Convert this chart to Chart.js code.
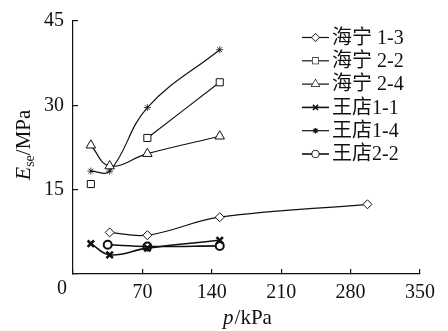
<!DOCTYPE html>
<html>
<head>
<meta charset="utf-8">
<script src="https://cdn.jsdelivr.net/npm/chart.js@4/dist/chart.umd.min.js"></script>
<style>
  body { margin: 0; background: #fff; }
  #wrap { width: 448px; height: 331px; }
</style>
</head>
<body>
<div id="wrap"><canvas id="mycan1" width="448" height="331"></canvas></div>
<script>
// values (p in kPa, Ese in MPa)
var seriesNames = ['海宁 1-3', '海宁 2-2', '海宁 2-4', '王店1-1', '王店1-4', '王店2-2'];
var pHN13 = [37, 75, 148, 297];
var eHN13 = [7.4, 6.9, 10.1, 12.4];
var pHN22 = [18, 37, 75, 148];
var eHN22 = [16.0, null, 24.2, 34.1];
var pHN24 = [18, 37, 75, 148];
var eHN24 = [22.9, 19.2, 21.4, 24.5];
var pWD11 = [18, 37, 75, 148];
var eWD11 = [5.4, 3.4, 4.6, 6.0];
var pWD14 = [18, 37, 75, 148];
var eWD14 = [18.3, 18.3, 29.6, 39.9];
var pWD22 = [35, 75, 148];
var eWD22 = [5.2, 4.9, 5.0];
var xTicks = [0, 70, 140, 210, 280, 350];
var yTicks = [0, 15, 30, 45];

var FONT = "'Liberation Serif', 'Times New Roman', 'Noto Sans CJK SC', serif";

function pts(xs, ys) {
	var out = [];
	for (var i = 0; i < xs.length; i++) {
		out.push({x: xs[i], y: ys[i]});
	}
	return out;
}

var markers = [
	{style: 'rectRot', r: 4.5, w: 1},
	{style: 'rect', r: 5, w: 1},
	{style: 'triangle', r: 5.5, w: 1},
	{style: 'crossRot', r: 4.5, w: 2.6},
	{style: 'star', r: 3.5, w: 0.8},
	{style: 'circle', r: 4, w: 2}
];
var allData = [pts(pHN13, eHN13), pts(pHN22, eHN22), pts(pHN24, eHN24),
	pts(pWD11, eWD11), pts(pWD14, eWD14), pts(pWD22, eWD22)];
var lineW = [1.2, 1.2, 1.2, 1.6, 1.2, 1.6];

var datasets = [];
for (var i = 0; i < seriesNames.length; i++) {
	datasets.push({
		label: seriesNames[i],
		data: allData[i],
		borderColor: '#111',
		backgroundColor: '#fff',
		borderWidth: lineW[i],
		pointStyle: markers[i].style,
		pointRadius: markers[i].r,
		pointBorderWidth: markers[i].w,
		pointBorderColor: '#111',
		pointBackgroundColor: '#fff',
		tension: 0.4,
		spanGaps: false
	});
}

// legend, axis titles and the shared origin "0"
var extras = {
	id: 'extras',
	afterDraw: function(chart) {
		var ctx = chart.ctx;
		ctx.save();
		ctx.fillStyle = '#111';
		ctx.strokeStyle = '#111';
		// legend
		for (var i = 0; i < datasets.length; i++) {
			var y = 37.5 + i * 23.3;
			ctx.lineWidth = lineW[i];
			ctx.beginPath();
			ctx.moveTo(302, y);
			ctx.lineTo(329, y);
			ctx.stroke();
			Chart.helpers.drawPoint(ctx, {
				pointStyle: markers[i].style,
				radius: markers[i].r * 0.8,
				borderWidth: markers[i].w,
				rotation: 0
			}, 315.5, y);
			ctx.fillStyle = '#fff';
			ctx.fill();
			ctx.fillStyle = '#111';
			ctx.font = '20px ' + FONT;
			ctx.textAlign = 'left';
			ctx.textBaseline = 'middle';
			ctx.fillText(datasets[i].label, 332, y + 1);
		}
		// origin label
		ctx.font = '20px ' + FONT;
		ctx.textAlign = 'center';
		ctx.textBaseline = 'middle';
		ctx.fillText('0', 62, 289);

		// x title: p/kPa
		ctx.textBaseline = 'alphabetic';
		ctx.textAlign = 'left';
		ctx.font = 'italic 21px ' + FONT;
		var wp = ctx.measureText('p').width;
		ctx.font = '21px ' + FONT;
		var wr = ctx.measureText('/kPa').width;
		var sx = 247 - (wp + wr) / 2;
		ctx.font = 'italic 21px ' + FONT;
		ctx.fillText('p', sx, 324);
		ctx.font = '21px ' + FONT;
		ctx.fillText('/kPa', sx + wp + 1, 324);

		// y title: Ese/MPa, rotated
		ctx.translate(30, 145);
		ctx.rotate(-Math.PI / 2);
		ctx.font = 'italic 22px ' + FONT;
		var wE = ctx.measureText('E').width;
		ctx.font = '14px ' + FONT;
		var ws = ctx.measureText('se').width;
		ctx.font = '21px ' + FONT;
		var wm = ctx.measureText('/MPa').width;
		var tx = -(wE + ws + wm) / 2;
		ctx.font = 'italic 22px ' + FONT;
		ctx.fillText('E', tx, 0);
		ctx.font = '14px ' + FONT;
		ctx.fillText('se', tx + wE, 4);
		ctx.font = '21px ' + FONT;
		ctx.fillText('/MPa', tx + wE + ws, 0);
		ctx.restore();
	}
};

var chart = new Chart(document.getElementById('mycan1'), {
	type: 'line',
	data: {datasets: datasets},
	plugins: [extras],
	options: {
		responsive: false,
		animation: false,
		layout: {padding: {left: 0, right: 28, top: 21, bottom: 0}},
		plugins: {legend: {display: false}, tooltip: {enabled: false}},
		scales: {
			x: {
				type: 'linear',
				min: 0,
				max: 350,
				afterFit: function(s) { s.height = 57; s.paddingLeft = 0; s.paddingRight = 0; },
				afterBuildTicks: function(s) { s.ticks = xTicks.map(function(v) { return {value: v}; }); },
				border: {display: true, color: '#111', width: 1.2},
				grid: {display: true, drawOnChartArea: false, tickLength: -5, color: '#111', lineWidth: 1.2},
				ticks: {
					color: '#111',
					padding: 12,
					maxRotation: 0,
					font: {family: FONT, size: 20},
					callback: function(v) { return v === 0 ? '' : v; }
				}
			},
			y: {
				min: 0,
				max: 45,
				afterFit: function(s) { s.width = 73; s.paddingTop = 0; s.paddingBottom = 0; },
				afterBuildTicks: function(s) { s.ticks = yTicks.map(function(v) { return {value: v}; }); },
				border: {display: true, color: '#111', width: 1.2},
				grid: {display: true, drawOnChartArea: false, tickLength: -5, color: '#111', lineWidth: 1.2},
				ticks: {
					color: '#111',
					padding: 14,
					font: {family: FONT, size: 20},
					callback: function(v) { return v === 0 ? '' : v; }
				}
			}
		}
	}
});
</script>
</body>
</html>
